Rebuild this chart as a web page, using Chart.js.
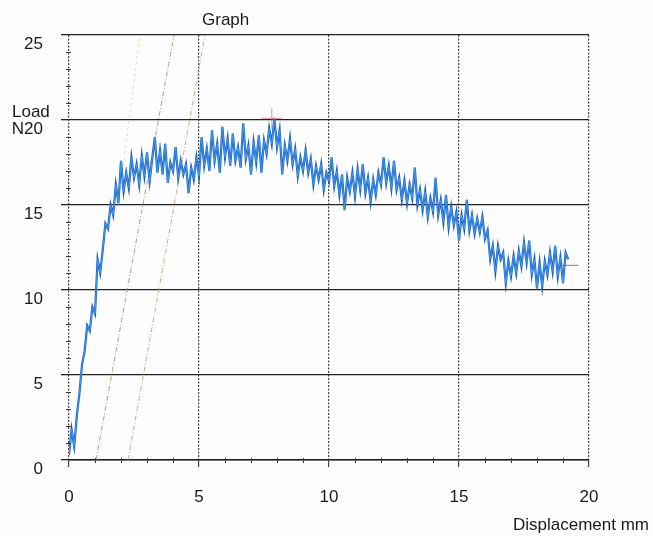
<!DOCTYPE html>
<html>
<head>
<meta charset="utf-8">
<script src="https://cdn.jsdelivr.net/npm/chart.js@4.4.1/dist/chart.umd.min.js"></script>
<style>
html,body{margin:0;padding:0;background:#fdfdfd;}
#wrap{width:653px;height:536px;position:relative;}
</style>
</head>
<body>
<div id="wrap"><canvas id="c" width="653" height="536"></canvas></div>
<script>
const displacement = [
0.0,0.1,0.2,0.3,0.4,0.5,0.6,0.7,0.8,0.9,1.0,1.1,1.2,1.3,1.4,1.5,1.6,1.7,1.8,1.9,
2.0,2.1,2.2,2.3,2.4,2.5,2.6,2.7,2.8,2.9,3.0,3.1,3.2,3.3,3.4,3.5,3.6,3.7,3.8,3.9,
4.0,4.1,4.2,4.3,4.4,4.5,4.6,4.7,4.8,4.9,5.0,5.1,5.2,5.3,5.4,5.5,5.6,5.7,5.8,5.9,
6.0,6.1,6.2,6.3,6.4,6.5,6.6,6.7,6.8,6.9,7.0,7.1,7.2,7.3,7.4,7.5,7.6,7.7,7.8,7.9,
8.0,8.1,8.2,8.3,8.4,8.5,8.6,8.7,8.8,8.9,9.0,9.1,9.2,9.3,9.4,9.5,9.6,9.7,9.8,9.9,
10.0,10.1,10.2,10.3,10.4,10.5,10.6,10.7,10.8,10.9,11.0,11.1,11.2,11.3,11.4,11.5,11.6,11.7,11.8,11.9,
12.0,12.1,12.2,12.3,12.4,12.5,12.6,12.7,12.8,12.9,13.0,13.1,13.2,13.3,13.4,13.5,13.6,13.7,13.8,13.9,
14.0,14.1,14.2,14.3,14.4,14.5,14.6,14.7,14.8,14.9,15.0,15.1,15.2,15.3,15.4,15.5,15.6,15.7,15.8,15.9,
16.0,16.1,16.2,16.3,16.4,16.5,16.6,16.7,16.8,16.9,17.0,17.1,17.2,17.3,17.4,17.5,17.6,17.7,17.8,17.9,
18.0,18.1,18.2,18.3,18.4,18.5,18.6,18.7,18.8,18.9,19.0,19.1,19.2
];
const load = [
0.3,1.8,0.8,2.6,3.9,5.6,6.4,7.9,7.6,9.0,8.6,11.8,11.0,12.4,13.9,13.6,15.0,14.4,16.2,15.1,
17.6,15.8,16.9,16.0,17.8,16.6,17.4,16.2,17.9,16.7,18.1,16.4,17.7,19.0,16.9,18.2,16.8,18.6,16.3,17.5,
17.0,18.4,16.6,17.6,16.8,17.4,15.7,17.2,16.5,17.8,16.7,19.0,17.3,18.3,17.0,19.4,17.6,18.6,16.9,19.6,
17.8,18.9,17.3,19.2,17.6,18.4,17.2,19.8,17.7,18.5,16.8,18.7,17.5,19.1,16.9,18.8,18.0,19.5,18.6,20.1,
18.4,19.4,16.8,18.5,17.6,18.9,17.4,18.3,16.7,17.8,17.0,18.2,16.9,17.7,16.2,17.3,16.5,17.4,15.9,16.9,
16.4,17.8,16.1,17.0,15.6,16.8,14.7,16.6,15.8,16.9,15.5,17.1,15.9,17.4,15.7,16.6,15.2,16.5,15.6,16.9,
16.2,17.8,16.3,17.3,16.0,17.6,15.9,16.6,15.3,16.4,15.1,16.2,15.4,17.2,15.0,15.9,14.7,15.8,14.3,15.4,
14.6,16.6,14.4,15.3,14.0,15.6,13.7,14.9,13.8,14.6,12.9,14.4,13.6,15.3,13.5,14.4,13.3,14.2,13.4,14.3,
13.0,13.5,11.8,12.6,11.1,12.6,11.8,12.2,10.4,11.7,10.8,12.0,11.0,12.3,11.4,12.8,11.6,12.9,10.9,11.8,
10.1,11.6,10.2,11.7,10.9,12.2,11.1,12.6,10.8,11.9,10.4,12.2,11.8
];
// construction (offset) lines: [x, y] end points
const offsetLineA = [[1.88,14.85],[2.73,25]];
const offsetLineB = [[1.04,0],[4.04,25]];
const offsetLineC = [[2.27,0],[5.23,25]];
const peakMarker = [[7.8,20.1]];
const endMarker = [[18.95,11.45],[19.6,11.45]];
const xTicks = [0,5,10,15,20];
const yTicks = [0,5,10,15,20,25];

const FONT = '"Liberation Sans", Arial, sans-serif';
const toPts = a => a.map(p => ({x:p[0], y:p[1]}));
const series = displacement.map((d,i) => ({x:d, y:load[i]}));

const decor = {
  id:'decor',
  afterDraw(chart){
    const {ctx, scales:{x,y}} = chart;
    ctx.save();
    ctx.strokeStyle = '#3a3a3a'; ctx.lineWidth = 1;
    for(let v=1; v<25; v++){
      if(v%5===0) continue;
      const py = Math.round(y.getPixelForValue(v))+0.5;
      const px = x.getPixelForValue(0);
      ctx.beginPath(); ctx.moveTo(px-3,py); ctx.lineTo(px+2,py); ctx.stroke();
    }
    for(let v=1; v<20; v++){
      if(v%5===0) continue;
      const px = Math.round(x.getPixelForValue(v))+0.5;
      const py = y.getPixelForValue(0);
      ctx.beginPath(); ctx.moveTo(px,py-2); ctx.lineTo(px,py+3); ctx.stroke();
    }
    ctx.fillStyle = '#1a1a1a';
    ctx.textBaseline = 'alphabetic';
    ctx.textAlign = 'left';
    ctx.font = '17px ' + FONT;
    ctx.fillText('Graph', 202, 25);
    ctx.fillText('Load', 12, 117);
    ctx.fillText('Displacement mm', 513, 530);
    ctx.restore();
  }
};

new Chart(document.getElementById('c'), {
  type:'line',
  data:{
    datasets:[
      {data:series, borderColor:'#1d5fc4', borderWidth:2.2, pointRadius:0, tension:0, order:2},
      {data:series, borderColor:'#3f9bf0', borderWidth:1, pointRadius:0, tension:0, order:1},
      {data:toPts(offsetLineA), borderColor:'rgba(225,205,150,0.7)', borderWidth:1, borderDash:[3,3], pointRadius:0, order:3},
      {data:toPts(offsetLineB), borderColor:'rgba(175,140,100,0.85)', borderWidth:1, borderDash:[5,2,1,2], pointRadius:0, order:3},
      {data:toPts(offsetLineC), borderColor:'rgba(200,160,110,0.85)', borderWidth:1, borderDash:[5,2,1,2], pointRadius:0, order:3},
      {type:'scatter', data:toPts(peakMarker), pointStyle:'cross', pointRadius:10, borderColor:'rgba(215,90,90,0.65)', borderWidth:1, order:0},
      {data:toPts(endMarker), borderColor:'rgba(190,70,70,0.85)', borderWidth:1, pointRadius:0, order:0}
    ]
  },
  options:{
    responsive:false, animation:false, devicePixelRatio:1,
    layout:{padding:{top:35,right:64,left:0,bottom:0}},
    plugins:{legend:{display:false}, tooltip:{enabled:false}, title:{display:false}},
    scales:{
      x:{type:'linear', min:0, max:20,
        afterBuildTicks(s){ s.ticks = xTicks.map(v=>({value:v})); },
        afterFit(s){ s.height = 76; },
        grid:{color:'#4e4040', lineWidth:1.2, tickLength:7, tickColor:'#4e4040'},
        border:{display:true, color:'#222', width:1.4, dash:[2,1.5]},
        ticks:{padding:20, color:'#1a1a1a', font:{family:FONT, size:17}, maxRotation:0}
      },
      y:{type:'linear', min:0, max:25,
        afterBuildTicks(s){ s.ticks = yTicks.map(v=>({value:v})); },
        afterFit(s){ s.width = 69; },
        grid:{color:'#222', lineWidth:1.3, tickLength:8, tickColor:'#222'},
        border:{display:false},
        ticks:{padding:18, labelOffset:9, color:'#1a1a1a', font:{family:FONT, size:17},
          callback:v => v===20 ? 'N20' : String(v)}
      }
    }
  },
  plugins:[decor]
});
</script>
</body>
</html>
